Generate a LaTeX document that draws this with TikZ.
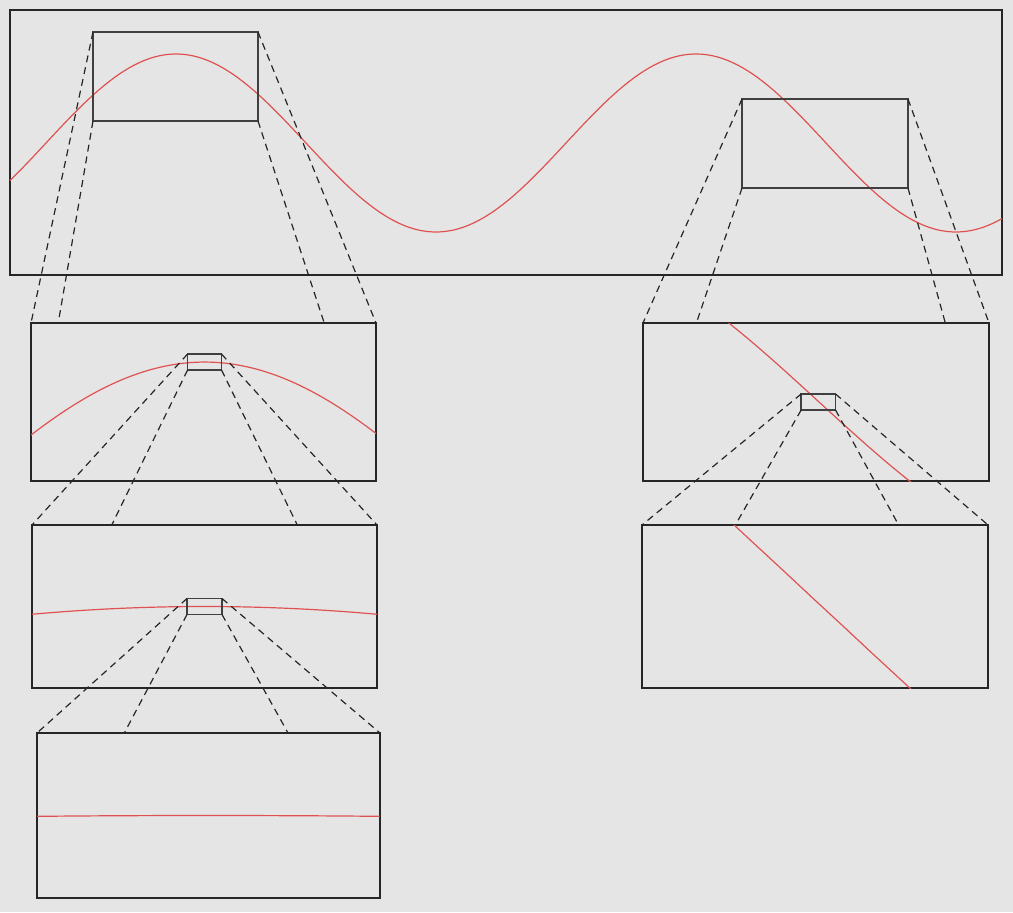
\documentclass[tikz,border=0pt]{standalone}
\usetikzlibrary{fit,calc}
\definecolor{paper}{HTML}{E5E5E5}
\definecolor{curve}{HTML}{E05252}
\tikzset{declare function={wave(\t)=54+13.3417*sin((\t-176)*0.3461538)*13.3417*sin((\t-176)*0.3461538);}}
% world window #1..#4 shown in panel #5..#8
\newcommand{\zoomwave}[8]{%
  \begin{scope}
    \clip (#5,#6) rectangle (#7,#8);
    \draw[wave] plot[domain=#1:#3, samples=90, smooth]
      ({#5+(\x-#1)/(#3-#1)*(#7-#5)}, {#6+(wave(\x)-#2)/(#4-#2)*(#8-#6)});
  \end{scope}}

\begin{document}
\begin{tikzpicture}[
  x=0.5pt, y=-0.5pt,
  frame/.style={draw=black!85, line width=0.75pt, inner sep=0pt, outer sep=0pt},
  lens/.style={draw=black!75, line width=0.75pt, inner sep=0pt, outer sep=0pt},
  slot/.style={inner sep=0pt, outer sep=0pt},
  panel/.style={frame, fill=paper},
  guide/.style={black!85, line width=0.6pt, dash pattern=on 3.5pt off 2.5pt},
  wave/.style={curve, line width=0.6pt}]
\fill[paper] (0,0) rectangle (1013,912);
\node[frame, fit={(10,10) (1002,275)}] (main) {};
\draw[wave] plot[domain=10:1002, samples=200, smooth] (\x, {wave(\x)});
\node[lens, fit={(93,32) (258,121)}] (lA) {};
\node[lens, fit={(742,99) (908,188)}] (lB) {};
% first zoom
\node[slot, fit={(31,323) (376,481)}] (pA1) {};
\node[slot, fit={(643,323) (989,481)}] (pB1) {};
\foreach \c in {north west,south west,north east,south east} {
  \draw[guide] (lA.\c) -- (pA1.\c);
  \draw[guide] (lB.\c) -- (pB1.\c);
}
\node[panel, fit=(pA1)] (fA1) {};
\node[panel, fit=(pB1)] (fB1) {};
\zoomwave{93}{32}{258}{121}{31}{323}{376}{481}
\zoomwave{742}{99}{908}{188}{643}{323}{989}{481}
\node[lens, fit={(187.55,354.07) (221.55,370.05)}] (lA1) {};
\node[lens, fit={(801.16,394) (835.55,410)}] (lB1) {};
% second zoom
\node[slot, fit={(32,525) (377,688)}] (pA2) {};
\node[slot, fit={(642,525) (988,688)}] (pB2) {};
\foreach \c in {north west,south west,north east,south east} {
  \draw[guide] (lA1.\c) -- (pA2.\c);
  \draw[guide] (lB1.\c) -- (pB2.\c);
}
\node[panel, fit=(pA2)] (fA2) {};
\node[panel, fit=(pB2)] (fB2) {};
\zoomwave{167.87}{49.5}{184.13}{58.5}{32}{525}{377}{688}
\zoomwave{817.88}{139}{834.38}{148}{642}{525}{988}{688}
\node[lens, fit={(187,598.5) (222,614.5)}] (lA2) {};
% third zoom
\node[slot, fit={(37,733) (380,898)}] (pA3) {};
\foreach \c in {north west,south west,north east,south east}
  \draw[guide] (lA2.\c) -- (pA3.\c);
\node[panel, fit=(pA3)] (fA3) {};
\zoomwave{175.175}{53.558}{176.825}{54.442}{37}{733}{380}{898}
\end{tikzpicture}
\end{document}
